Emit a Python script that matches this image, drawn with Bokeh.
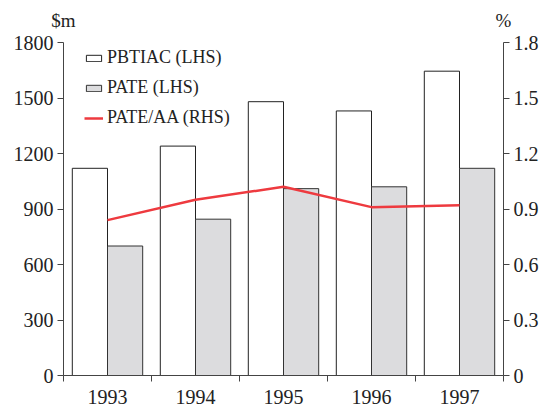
from bokeh.plotting import figure
from bokeh.models import Range1d, LinearAxis, FixedTicker, Legend, LegendItem, ColumnDataSource
from bokeh.embed import file_html
from bokeh.resources import INLINE

years = ["1993", "1994", "1995", "1996", "1997"]
pbtiac = [1120, 1240, 1480, 1430, 1645]
pate = [700, 845, 1010, 1020, 1120]
pate_aa = [0.84, 0.95, 1.02, 0.91, 0.92]
left_ticks = [0, 300, 600, 900, 1200, 1500, 1800]
right_ticks = [0, 0.3, 0.6, 0.9, 1.2, 1.5, 1.8]
right_labels = ["0", "0.3", "0.6", "0.9", "1.2", "1.5", "1.8"]
unit_labels = ["$m", "%"]

FONT = "Liberation Serif"
TXT = "#222222"
AX = "#444444"

W, H = 544, 406
BL, BR, BT, BB = 63, 41, 42, 29
n = len(years)

idx = list(range(n))
src = ColumnDataSource(dict(
    x1=[i + 0.3 for i in idx],
    x2=[i + 0.7 for i in idx],
    xc=[i + 0.5 for i in idx],
    pbtiac=pbtiac, pate=pate, aa=pate_aa,
))

p = figure(width=W, height=H, output_backend="svg", toolbar_location=None,
           x_range=Range1d(0, n), y_range=Range1d(0, 1800),
           min_border_left=BL, min_border_right=BR, min_border_top=BT, min_border_bottom=BB)
p.extra_y_ranges = {"rhs": Range1d(0, 1.8)}
p.outline_line_color = None
p.xgrid.grid_line_color = None
p.ygrid.grid_line_color = None

r1 = p.vbar(x="x1", top="pbtiac", width=0.4, source=src, fill_color="white",
            line_color="#222222", line_width=1)
r2 = p.vbar(x="x2", top="pate", width=0.4, source=src, fill_color="#dcdcde",
            line_color="#333333", line_width=1)
r3 = p.line(x="xc", y="aa", source=src, y_range_name="rhs", line_color="#ee3a3f",
            line_width=2.5)

# x axis: labels at category centres, ticks at category boundaries
xa = p.xaxis[0]
xa.ticker = FixedTicker(ticks=[i + 0.5 for i in idx], minor_ticks=list(range(n + 1)))
xa.major_label_overrides = {i + 0.5: y for i, y in zip(idx, years)}
xa.major_tick_out = 0
xa.major_tick_in = 0
xa.minor_tick_out = 6
xa.minor_tick_in = 0
xa.minor_tick_line_color = AX
xa.axis_line_color = AX
xa.major_label_standoff = 8
xa.major_label_text_font = FONT
xa.major_label_text_font_size = "20px"
xa.major_label_text_color = TXT

# unit labels above the two value axes
ua = LinearAxis(ticker=FixedTicker(ticks=[0, n]))
ua.major_label_overrides = {0: unit_labels[0], n: unit_labels[1]}
ua.axis_line_color = None
ua.major_tick_line_color = None
ua.minor_tick_line_color = None
ua.major_tick_out = 0
ua.major_tick_in = 0
ua.major_label_standoff = 12
ua.major_label_text_font = FONT
ua.major_label_text_font_size = "19px"
ua.major_label_text_color = TXT
p.add_layout(ua, "above")

# left axis
ya = p.yaxis[0]
ya.ticker = FixedTicker(ticks=left_ticks)
ya.major_tick_out = 6
ya.major_tick_in = 0
ya.minor_tick_line_color = None
ya.axis_line_color = AX
ya.major_tick_line_color = AX
ya.major_label_standoff = 4
ya.major_label_text_font = FONT
ya.major_label_text_font_size = "20px"
ya.major_label_text_color = TXT

# right axis
ra = LinearAxis(y_range_name="rhs")
ra.ticker = FixedTicker(ticks=right_ticks)
ra.major_label_overrides = {t: l for t, l in zip(right_ticks, right_labels)}
ra.major_tick_out = 6
ra.major_tick_in = 0
ra.minor_tick_line_color = None
ra.axis_line_color = AX
ra.major_tick_line_color = AX
ra.major_label_standoff = 4
ra.major_label_text_font = FONT
ra.major_label_text_font_size = "20px"
ra.major_label_text_color = TXT
p.add_layout(ra, "right")

legend = Legend(items=[
    LegendItem(label="PBTIAC (LHS)", renderers=[r1]),
    LegendItem(label="PATE (LHS)", renderers=[r2]),
    LegendItem(label="PATE/AA (RHS)", renderers=[r3]),
])
legend.border_line_color = None
legend.background_fill_alpha = 0
legend.margin = 0
legend.padding = 0
legend.spacing = 9
legend.glyph_width = 19
legend.glyph_height = 8
legend.label_standoff = 4
legend.label_text_font = FONT
legend.label_text_font_size = "18px"
legend.label_text_color = TXT
legend.label_height = 20
frame_h = H - BT - BB
legend.location = (21, frame_h - 10 - (3 * 20 + 2 * 9))
p.add_layout(legend)

open("out.html", "w").write(file_html(p, INLINE))
